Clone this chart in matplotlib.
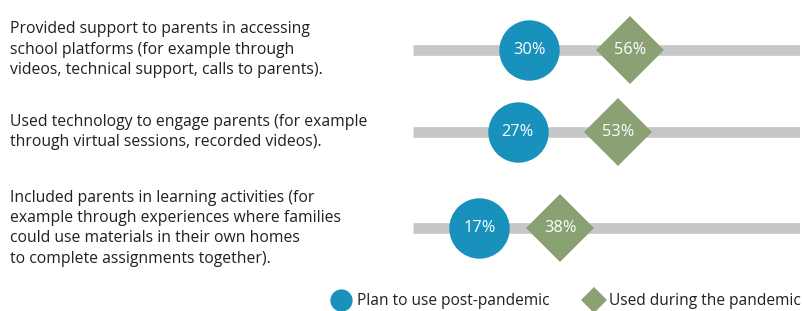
import matplotlib.pyplot as plt
from matplotlib.lines import Line2D

plt.rcParams['font.family'] = ['Open Sans', 'DejaVu Sans']

labels = [
    "Provided support to parents in accessing\nschool platforms (for example through\nvideos, technical support, calls to parents).",
    "Used technology to engage parents (for example\nthrough virtual sessions, recorded videos).",
    "Included parents in learning activities (for\nexample through experiences where families\ncould use materials in their own homes\nto complete assignments together).",
]
post_pandemic = [30, 27, 17]
during_pandemic = [56, 53, 38]

# row centres in pixels from the top
row_y = [49.7, 132.3, 228.2]

blue = '#1891bd'
green = '#8ba174'
grey = '#c6c7c9'

W, H = 803, 311
fig = plt.figure(figsize=(W / 100, H / 100), dpi=100)
ax = fig.add_axes([413.5 / W, 0, 386.5 / W, 1])
ax.set_xlim(0, 100)
ax.set_ylim(H, 0)
ax.axis('off')

for i, y in enumerate(row_y):
    ax.plot([0, 100], [y, y], color=grey, lw=7.7, solid_capstyle='butt', zorder=1)
    ax.plot(post_pandemic[i], y, 'o', color=blue, ms=43.5, mew=0, zorder=3)
    ax.plot(during_pandemic[i], y, 'D', color=green, ms=34.5, mew=0, zorder=2)
    ax.text(post_pandemic[i], y, f"{post_pandemic[i]}%", color='white',
            ha='center', va='center', fontsize=11.8, zorder=4)
    ax.text(during_pandemic[i], y, f"{during_pandemic[i]}%", color='white',
            ha='center', va='center', fontsize=11.8, zorder=4)
    fig.text(10 / W, 1 - y / H, labels[i], ha='left', va='center',
             fontsize=11.3, color='#231f20', linespacing=1.36)

handles = [
    Line2D([], [], marker='o', color=blue, ls='', ms=16, mew=0),
    Line2D([], [], marker='D', color=green, ls='', ms=13.5, mew=0),
]
fig.legend(handles, ['Plan to use post-pandemic', 'Used during the pandemic'],
           loc='center right', bbox_to_anchor=(801 / W, 1 - 301 / H), ncol=2,
           frameon=False, fontsize=11.2, handletextpad=0.35, columnspacing=2.2,
           handlelength=1.3, borderaxespad=0, borderpad=0,
           labelcolor='#231f20')

fig.savefig('out.png', dpi=100)
